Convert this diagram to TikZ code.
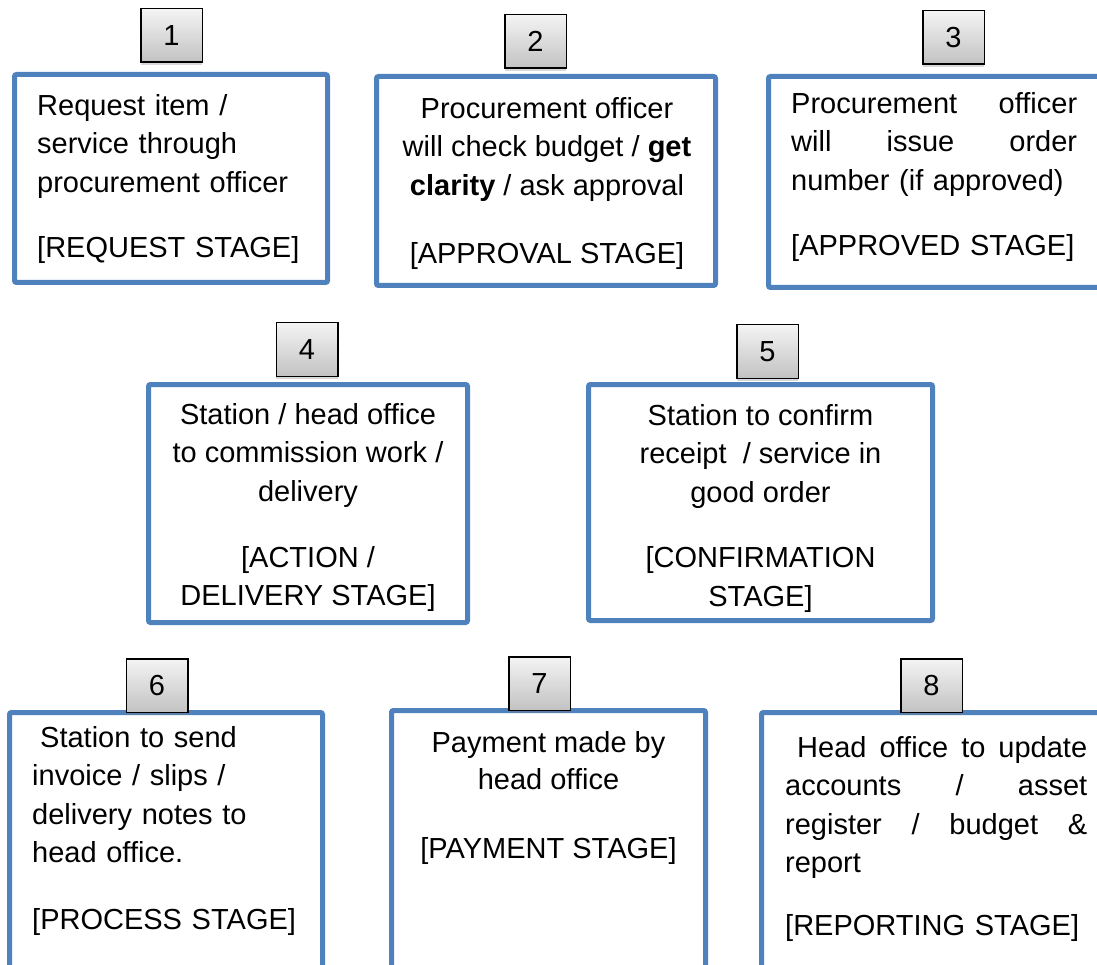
\documentclass[tikz,border=0pt]{standalone}
\usepackage{fontspec}
\setmainfont{Liberation Sans}
\usepackage{xcolor}
\usetikzlibrary{positioning,shadows}
\definecolor{stageblue}{HTML}{4F81BD}
\definecolor{tagtop}{HTML}{F4F4F4}
\definecolor{tagbottom}{HTML}{C2C2C2}

\begin{document}
\begin{tikzpicture}[
  x=1pt,y=-1pt,
  every node/.style={font=\fontsize{29pt}{38.5pt}\selectfont},
  stagebox/.style={rectangle,draw=stageblue,line width=5pt,rounded corners=2pt,fill=white},
  numtag/.style={rectangle,draw=black,line width=1.5pt,top color=tagtop,bottom color=tagbottom,
                 minimum width=61.5pt,minimum height=53.5pt,inner sep=0pt,
                 drop shadow={shadow xshift=0pt,shadow yshift=-3pt,opacity=0.3}},
  midtext/.style={inner sep=0pt,align=center},
  lefttext/.style={inner sep=0pt,align=left,text width=#1}
]
\useasboundingbox (0,0) rectangle (1097,965);
\clip (0,0) rectangle (1097,965);
\fill[white] (0,0) rectangle (1097,965);

%% ---- top row ----
\node[stagebox,minimum width=313pt,minimum height=208pt] (req) at (171,178.5) {};
\node[lefttext=290pt,below right=22pt and 25pt of req.north west] (reqtxt)
  {Request item /\\ service through\\ procurement officer\\[27pt] {[REQUEST STAGE]}};
\node[numtag,above=9pt of req.north,xshift=0.5pt] (reqnum) {1};

\node[stagebox,minimum width=339pt,minimum height=209pt] (appr) at (546,181) {};
\node[midtext,below=23pt of appr.north,xshift=1pt] (apprtxt)
  {Procurement officer\\ will check budget / \textbf{get}\\ \textbf{clarity} / ask approval\\[29.5pt] {[APPROVAL STAGE]}};
\node[numtag,above=5pt of appr.north,xshift=-10.5pt] (apprnum) {2};

\node[stagebox,minimum width=333.5pt,minimum height=211pt] (issue) at (935.25,182) {};
\node[lefttext=286pt,below right=18pt and 25pt of issue.north west] (issuetxt)
  {Procurement\hfill officer\\ will\hfill issue\hfill order\\ number (if approved)\\[27pt] {[APPROVED STAGE]}};
\node[numtag,above=9pt of issue.north,xshift=18.25pt] (issuenum) {3};

%% ---- middle row ----
\node[stagebox,minimum width=319pt,minimum height=238pt] (action) at (308,503.5) {};
\node[midtext,below=21pt of action.north] (actiontxt)
  {Station / head office\\ to commission work /\\ delivery\\[27.5pt] {[}ACTION /\\ DELIVERY STAGE{]}};
\node[numtag,above=5pt of action.north,xshift=-1pt] (actionnum) {4};

\node[stagebox,minimum width=344pt,minimum height=236pt] (confirm) at (760.5,502.5) {};
\node[midtext,below=22pt of confirm.north] (confirmtxt)
  {Station to confirm\\ receipt\ \ / service in\\ good order\\[27pt] {[}CONFIRMATION\\ STAGE{]}};
\node[numtag,above=3pt of confirm.north,xshift=7pt] (confirmnum) {5};

%% ---- bottom row ----
\node[stagebox,minimum width=313pt,minimum height=262.5pt] (process) at (166,843.75) {};
\node[lefttext=285pt,below right=16pt and 25pt of process.north west] (processtxt)
  {\hspace*{8pt}Station to send\\ invoice / slips /\\ delivery notes to\\ head office.\\[28.5pt] {[PROCESS STAGE]}};
\node[numtag,above=-3pt of process.north,xshift=-9pt] (processnum) {6};

\node[stagebox,minimum width=314pt,minimum height=264.5pt] (pay) at (548.5,842.75) {};
\node[midtext,below=23pt of pay.north] (paytxt)
  {Payment made by\\[-1.5pt] head office\\[31pt] {[PAYMENT STAGE]}};
\node[numtag,above=-3pt of pay.north,xshift=-9pt] (paynum) {7};

\node[stagebox,minimum width=340.5pt,minimum height=262.5pt] (report) at (931.75,843.75) {};
\node[lefttext=302pt,below right=26pt and 26pt of report.north west] (reporttxt)
  {\hspace*{12pt}Head\hfill office\hfill to\hfill update\\ accounts\hfill/\hfill asset\\
   register\hfill/\hfill budget\hfill\&\\ report\\[24.5pt] {[REPORTING STAGE]}};
\node[numtag,above=-3pt of report.north,xshift=-0.25pt] (reportnum) {8};

\end{tikzpicture}
\end{document}
